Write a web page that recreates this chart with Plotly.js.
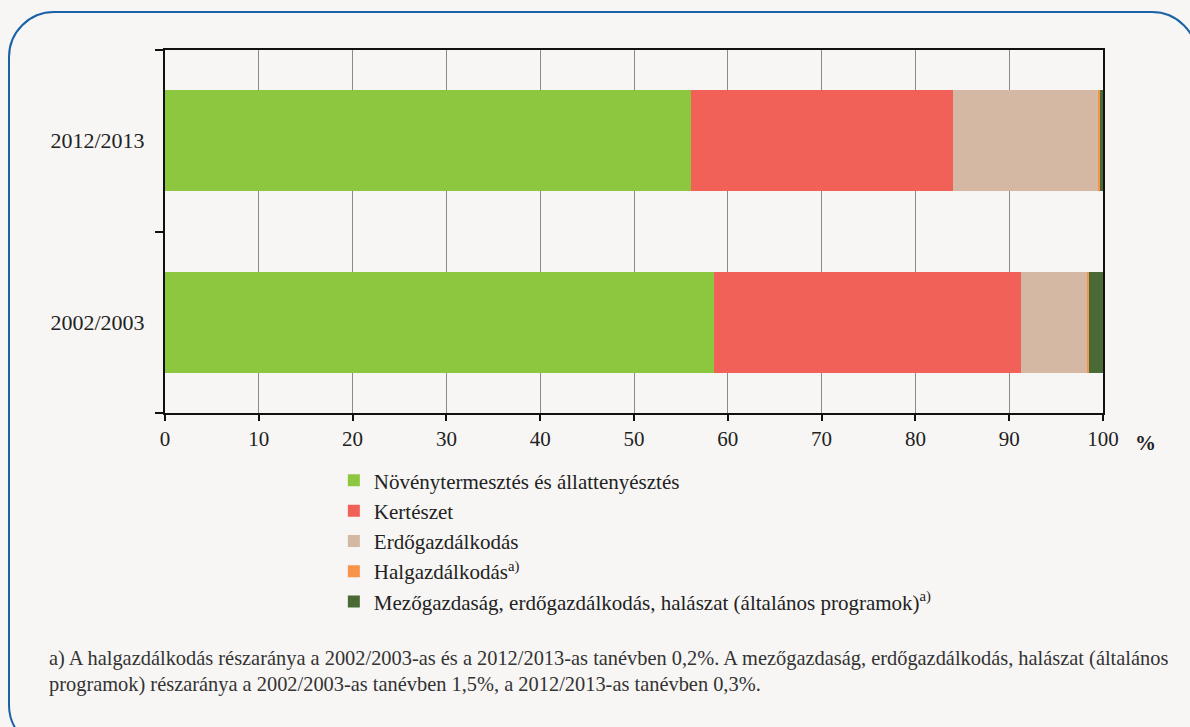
<!DOCTYPE html>
<html><head><meta charset="utf-8">
<script src="https://cdn.plot.ly/plotly-3.0.1.min.js"></script>
<style>
html,body{margin:0;padding:0;background:#f7f6f4;}
#wrap{position:relative;width:1190px;height:727px;overflow:hidden;background:#f7f6f4;}
#chart{position:absolute;left:0;top:0;width:1190px;height:727px;}
#frame{position:absolute;left:8px;top:11px;width:1190px;height:740px;border:2px solid #1a62a6;border-radius:46px;pointer-events:none;box-sizing:border-box;}
</style></head>
<body><div id="wrap"><div id="chart"></div><div id="frame"></div></div>
<script>
const years = ['2002/2003', '2012/2013'];
const seriesNames = [
  'Növénytermesztés és állattenyésztés',
  'Kertészet',
  'Erdőgazdálkodás',
  'Halgazdálkodás<sup>a)</sup>',
  'Mezőgazdaság, erdőgazdálkodás, halászat (általános programok)<sup>a)</sup>'
];
const novenyValues = [58.5, 56.1];
const kerteszetValues = [32.8, 27.9];
const erdoValues = [7.0, 15.5];
const halValues = [0.2, 0.2];
const altalanosValues = [1.5, 0.3];
const xTicks = [0, 10, 20, 30, 40, 50, 60, 70, 80, 90, 100];
const colors = ['#8dc63f', '#f26157', '#d5b8a3', '#f7944a', '#4a6a35'];
const allValues = [novenyValues, kerteszetValues, erdoValues, halValues, altalanosValues];

const font = "Liberation Serif";
const traces = allValues.map((vals, i) => ({
  type: 'bar', orientation: 'h', y: years, x: vals, name: seriesNames[i],
  marker: {color: colors[i], line: {width: 0}}, legendgroup: 'g' + i,
  hoverinfo: 'x+name'
}));

const layout = {
  width: 1190, height: 727,
  paper_bgcolor: 'rgba(0,0,0,0)', plot_bgcolor: 'rgba(0,0,0,0)',
  margin: {l: 165, r: 87, t: 50, b: 314},
  barmode: 'stack', bargap: 0.445,
  showlegend: true,
  font: {family: font, color: '#222', size: 21},
  xaxis: {
    range: [0, 100], tickvals: xTicks, ticktext: xTicks.map(String),
    showgrid: true, gridcolor: '#8a8a8a', gridwidth: 1,
    showline: true, linecolor: '#111', linewidth: 2, mirror: true,
    ticks: 'outside', ticklen: 6, tickcolor: '#111', tickwidth: 1.5,
    tickfont: {family: font, size: 21, color: '#222'}, zeroline: false, fixedrange: true
  },
  yaxis: {
    type: 'category', categoryorder: 'array', categoryarray: years,
    showgrid: false, showline: true, linecolor: '#111', linewidth: 2, mirror: true,
    ticks: 'outside', tickson: 'boundaries', ticklen: 8, tickcolor: '#111', tickwidth: 1.5,
    tickfont: {family: font, size: 22, color: '#222'}, ticklabelstandoff: 14, fixedrange: true
  },
  legend: {
    orientation: 'v', x: 0.18, xanchor: 'left', y: -0.13, yanchor: 'top',
    traceorder: 'grouped', tracegroupgap: 0, bgcolor: 'rgba(0,0,0,0)',
    font: {family: font, size: 21, color: '#222'}, itemwidth: 30
  },
  annotations: [
    {text: '<b>%</b>', xref: 'paper', yref: 'paper', x: 1.032, y: -0.045, xanchor: 'left', yanchor: 'top',
     showarrow: false, font: {family: font, size: 21, color: '#222'}},
    {text: 'a) A halgazdálkodás részaránya a 2002/2003-as és a 2012/2013-as tanévben 0,2%. A mezőgazdaság, erdőgazdálkodás, halászat (általános',
     xref: 'paper', yref: 'paper', x: -0.1255, y: -0.638, xanchor: 'left', yanchor: 'top',
     showarrow: false, align: 'left', font: {family: font, size: 20.4, color: '#333'}},
    {text: 'programok) részaránya a 2002/2003-as tanévben 1,5%, a 2012/2013-as tanévben 0,3%.',
     xref: 'paper', yref: 'paper', x: -0.1255, y: -0.712, xanchor: 'left', yanchor: 'top',
     showarrow: false, align: 'left', font: {family: font, size: 20.4, color: '#333'}}
  ]
};
Plotly.newPlot('chart', traces, layout, {displayModeBar: false});
</script></body></html>
